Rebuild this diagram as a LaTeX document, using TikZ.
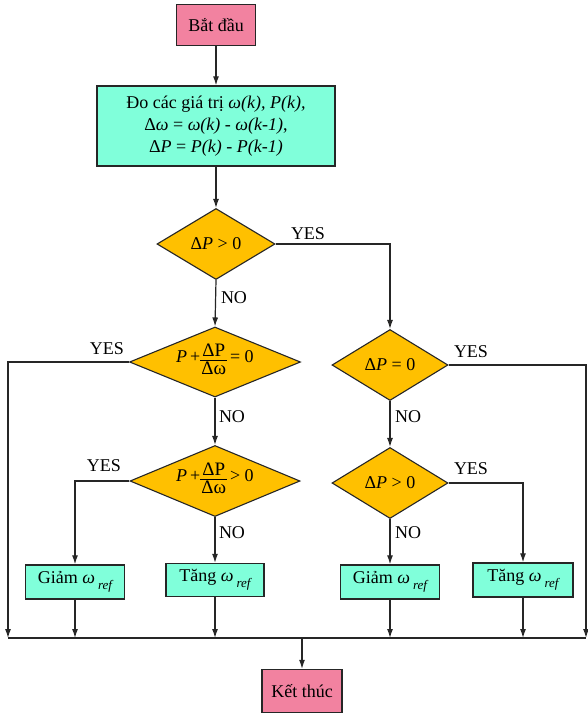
\documentclass[tikz,border=0pt]{standalone}
\usepackage{fontspec}
\setmainfont{Liberation Serif}
\usetikzlibrary{shapes.geometric,arrows.meta}

\definecolor{termpink}{RGB}{242,130,160}
\definecolor{procaqua}{RGB}{128,255,218}
\definecolor{decorange}{RGB}{255,192,0}

\tikzset{
  term/.style={draw=black!85, line width=1.3pt, fill=termpink, inner sep=0pt},
  proc/.style={draw=black!85, line width=1.3pt, fill=procaqua, inner sep=0pt, align=center},
  dec/.style={diamond, draw=black!85, line width=1.1pt, fill=decorange, inner sep=0pt},
  lab/.style={inner sep=0pt},
  flow/.style={-{Latex[length=9pt,width=6pt]}, line width=1.2pt, draw=black!85}
}

\newcommand{\wref}{\textit{ω}\,\raisebox{-6pt}{\fontsize{13}{13}\selectfont\itshape ref}}
\newcommand{\fracdp}{\raisebox{-0.45ex}{\fontsize{19}{16}\selectfont\tabcolsep=1pt\begin{tabular}{c}ΔP\\[-2pt]\hline\rule{0pt}{15pt}Δω\end{tabular}}}

\begin{document}
\begin{tikzpicture}[x=1pt,y=-1pt,font=\rmfamily\fontsize{18}{22}\selectfont]
\useasboundingbox (0,0) rectangle (588,715);
% main column
\node[term, minimum width=79pt, minimum height=41pt] (start) at (216,25) {Bắt đầu};
\node[proc, minimum width=238pt, minimum height=80pt] (meas) at (216,126)
  {Đo các giá trị \textit{ω(k), P(k),}\\ Δ\textit{ω} = \textit{ω(k) - ω(k-1)},\\ Δ\textit{P} = \textit{P(k) - P(k-1)}};
\node[dec, minimum width=118pt, minimum height=71pt, label=center:{Δ\textit{P} > 0}] (d1) at (216,244) {};
\node[dec, minimum width=171pt, minimum height=70pt, label=center:{\textit{P}\,+\fracdp\,= 0}] (d2) at (215,362) {};
\node[dec, minimum width=170pt, minimum height=71pt, label=center:{\textit{P}\,+\fracdp\,> 0}] (d4) at (215,481) {};
% right column
\node[dec, minimum width=116pt, minimum height=71pt, label=center:{Δ\textit{P} = 0}] (d3) at (390,365) {};
\node[dec, minimum width=116pt, minimum height=71pt, label=center:{Δ\textit{P} > 0}] (d5) at (390,483) {};
% actions
\node[proc, minimum width=99pt, minimum height=34pt] (dec1) at (75,582) {Giảm \wref};
\node[proc, minimum width=98pt, minimum height=33pt] (inc1) at (215,580) {Tăng \wref};
\node[proc, minimum width=99pt, minimum height=34pt] (dec2) at (390,582) {Giảm \wref};
\node[proc, minimum width=100pt, minimum height=34pt] (inc2) at (523,580) {Tăng \wref};
\node[term, minimum width=80pt, minimum height=43pt] (stop) at (302,691) {Kết thúc};
% bus
\coordinate (busL) at (8,638);
\coordinate (busR) at (586,638);
\coordinate (busM) at (302,638);
% labels
\node[lab] (y1) at (308,234) {YES};
\node[lab] (n1) at (234,298) {NO};
\node[lab] (y2) at (107,349) {YES};
\node[lab] (n2) at (232,417) {NO};
\node[lab] (y3) at (471,352) {YES};
\node[lab] (n3) at (408,417) {NO};
\node[lab] (y4) at (104,466) {YES};
\node[lab] (n4) at (232,533) {NO};
\node[lab] (y5) at (471,469) {YES};
\node[lab] (n5) at (408,533) {NO};
% connectors
\draw[flow] (start) -- (meas);
\draw[flow] (meas) -- (d1);
\draw[flow] (d1.south) -- (d2.north);
\draw[flow] (d1.east) -| (d3.north);
\draw[flow] (d2.south) -- (d4.north);
\draw[flow] (d3.south) -- (d5.north);
\draw[flow] (d4.south) -- (inc1.north);
\draw[flow] (d4.west) -| (dec1.north);
\draw[flow] (d5.south) -- (dec2.north);
\draw[flow] (d5.east) -| (inc2.north);
\draw[flow] (d2.west) -| (busL);
\draw[flow] (d3.east) -| (busR);
\draw[line width=1.2pt, black!85] (busL) -- (busR);
\draw[flow] (dec1) -- (dec1 |- busL);
\draw[flow] (inc1) -- (inc1 |- busL);
\draw[flow] (dec2) -- (dec2 |- busL);
\draw[flow] (inc2) -- (inc2 |- busL);
\draw[flow] (busM) -- (stop);
\end{tikzpicture}
\end{document}
